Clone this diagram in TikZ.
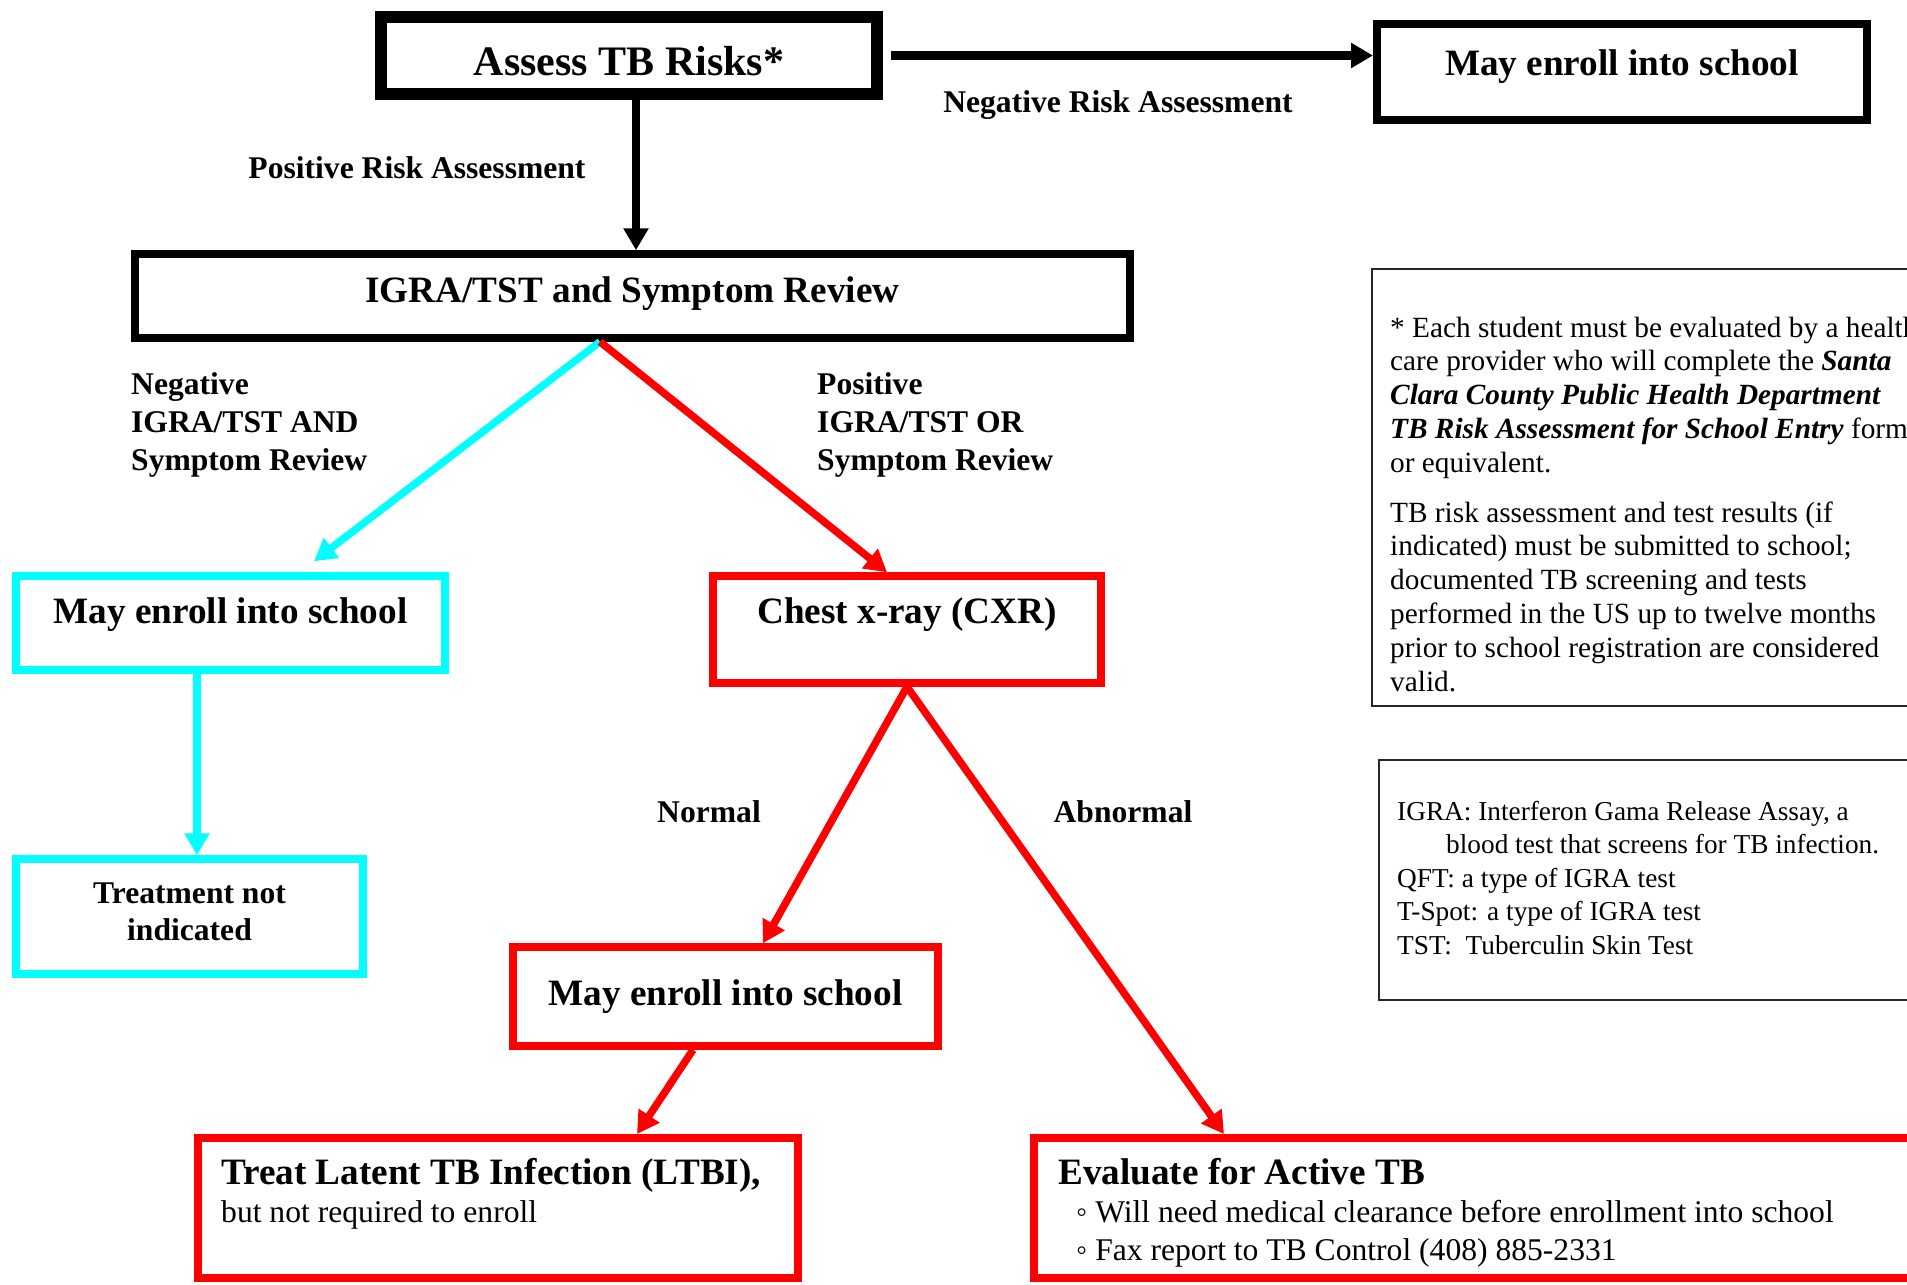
\documentclass[tikz,border=0pt]{standalone}
\usepackage{fontspec}
\setmainfont{Liberation Serif}
\usetikzlibrary{arrows.meta,calc}
\definecolor{cyanC}{RGB}{0,255,255}
\definecolor{redC}{RGB}{255,0,0}
\newcommand\FtA{\fontsize{42}{48}\selectfont\bfseries}
\newcommand\FtB{\fontsize{37.2}{44}\selectfont\bfseries}
\newcommand\FtL{\fontsize{31.6}{38}\selectfont\bfseries}
\newcommand\FtT{\fontsize{31.6}{37}\selectfont\bfseries}
\newcommand\FtR{\fontsize{31.6}{38}\selectfont}
\newcommand\FtN{\fontsize{29.3}{33.9}\selectfont}
\newcommand\FtM{\fontsize{27.3}{33.6}\selectfont}
\begin{document}
\begin{tikzpicture}[x=1pt,y=1pt,
  bx/.style={draw, rectangle, inner sep=0pt},
  txt/.style={anchor=base, inner sep=0pt, text=black},
  txtl/.style={anchor=base west, inner sep=0pt, text=black},
  arr/.style={line width=#1, -{Triangle[width=24pt,length=22pt]}},
  arr/.default=7.5pt
]
\useasboundingbox (0,0) rectangle (1907,-1285);
\fill[white] (0,0) rectangle (1907,-1285);
\clip (0,0) rectangle (1907,-1285);

% boxes
\node[bx, line width=12pt, minimum width=496pt, minimum height=77pt] (assess) at (629,-55.5) {};
\node[bx, line width=8pt, minimum width=490pt, minimum height=96pt] (enr1) at (1622,-72) {};
\node[bx, line width=7.5pt, minimum width=995pt, minimum height=84pt] (igra) at (632.5,-296) {};
\node[bx, draw=cyanC, line width=7.5pt, minimum width=429pt, minimum height=94pt] (enrC) at (230.5,-623) {};
\node[bx, draw=cyanC, line width=7.5pt, minimum width=347pt, minimum height=115pt] (treatN) at (189.5,-916.5) {};
\node[bx, draw=redC, line width=7.5pt, minimum width=388pt, minimum height=107pt] (cxr) at (907,-629.5) {};
\node[bx, draw=redC, line width=7.5pt, minimum width=425pt, minimum height=99pt] (enrR) at (725.5,-996.5) {};
\node[bx, draw=redC, line width=8pt, minimum width=600pt, minimum height=140pt] (ltbi) at (498,-1208) {};
\node[bx, draw=redC, line width=8pt, minimum width=926pt, minimum height=140pt] (evalA) at (1497,-1208) {};
\node[bx, draw=black!85, line width=2pt, minimum width=628pt, minimum height=437pt] (fn1) at (1686,-487.5) {};
\node[bx, draw=black!85, line width=2pt, minimum width=621pt, minimum height=240pt] (fn2) at (1689.5,-880) {};

% box texts
\node[txt, font=\FtA] (tAssess) at (629,-75) {Assess TB Risks*};
\node[txt, font=\FtB] (tEnr1) at (1622,-75) {May enroll into school};
\node[txt, font=\FtB] (tIgra) at (632.5,-302) {IGRA/TST and Symptom Review};
\node[txt, font=\FtB] (tEnrC) at (230.5,-623) {May enroll into school};
\node[txt, font=\FtB] (tCxr) at (907,-623) {Chest x-ray (CXR)};
\node[txt, font=\FtB] (tEnrR) at (725.5,-1005) {May enroll into school};
\node[txt] (tTreatN) at (189.5,-903) {\FtT\begin{tabular}[t]{@{}c@{}}Treatment not\\indicated\end{tabular}};
\node[txtl] (tLtbi) at (221,-1184) {\FtR\begin{tabular}[t]{@{}l@{}}{\FtB Treat Latent TB Infection (LTBI),}\\but not required to enroll\end{tabular}};
\node[txtl, font=\FtB] (tEval) at (1058,-1184) {Evaluate for Active TB};
\node[txtl] (tEvalB) at (1076,-1222) {\FtR\begin{tabular}[t]{@{}l@{}}◦ Will need medical clearance before enrollment into school\\◦ Fax report to TB Control (408) 885-2331\end{tabular}};

% footnotes
\node[txtl] (tFn1a) at (1390,-337) {\FtN\begin{tabular}[t]{@{}l@{}}* Each student must be evaluated by a health\\
care provider who will complete the \textbf{\textit{Santa}}\\
\textbf{\textit{Clara County Public Health Department}}\\
\textbf{\textit{TB Risk Assessment for School Entry}} form\\
or equivalent.\end{tabular}};
\node[txtl] (tFn1b) at (1390,-522) {\FtN\begin{tabular}[t]{@{}l@{}}TB risk assessment and test results (if\\
indicated) must be submitted to school;\\
documented TB screening and tests\\
performed in the US up to twelve months\\
prior to school registration are considered\\
valid.\end{tabular}};
\node[txtl] (tFn2) at (1397,-820) {\FtM\begin{tabular}[t]{@{}l@{}}IGRA: Interferon Gama Release Assay, a\\
\hspace*{49pt}blood test that screens for TB infection.\\
QFT: a type of IGRA test\\
T-Spot: a type of IGRA test\\
TST:\ \ Tuberculin Skin Test\end{tabular}};

% labels
\node[txt, font=\FtL] (lPos) at (417,-178.5) {Positive Risk Assessment};
\node[txt, font=\FtL] (lNeg) at (1118,-112) {Negative Risk Assessment};
\node[txtl] (lNegT) at (131,-394.5) {\FtL\begin{tabular}[t]{@{}l@{}}Negative\\IGRA/TST AND\\Symptom Review\end{tabular}};
\node[txtl] (lPosT) at (817,-394.5) {\FtL\begin{tabular}[t]{@{}l@{}}Positive\\IGRA/TST OR\\Symptom Review\end{tabular}};
\node[txt, font=\FtL] (lNorm) at (709,-822.5) {Normal};
\node[txt, font=\FtL] (lAbn) at (1123,-822.5) {Abnormal};

% connectors
\draw[arr=8.5pt, black] ([xshift=8pt]assess.east) -- (assess.east -| enr1.west);
\draw[arr=8pt, black] ([xshift=7pt]assess.south) -- ([xshift=7pt]assess.south |- igra.north);
\draw[arr, cyanC] ([xshift=-32.5pt]igra.south) -- ([xshift=83.5pt,yshift=11pt]enrC.north);
\draw[arr, redC] ([xshift=-32.5pt]igra.south) -- ([xshift=-20pt]cxr.north);
\draw[arr, cyanC] ([xshift=-33.5pt]enrC.south) -- ([xshift=-33.5pt]enrC.south |- treatN.north);
\draw[arr, redC] (cxr.south) -- ([xshift=37.5pt]enrR.north);
\draw[arr, redC] (cxr.south) -- ([xshift=194pt]evalA.north west);
\draw[arr, redC] ([xshift=-32.5pt]enrR.south) -- ([xshift=443pt]ltbi.north west);
\end{tikzpicture}
\end{document}
